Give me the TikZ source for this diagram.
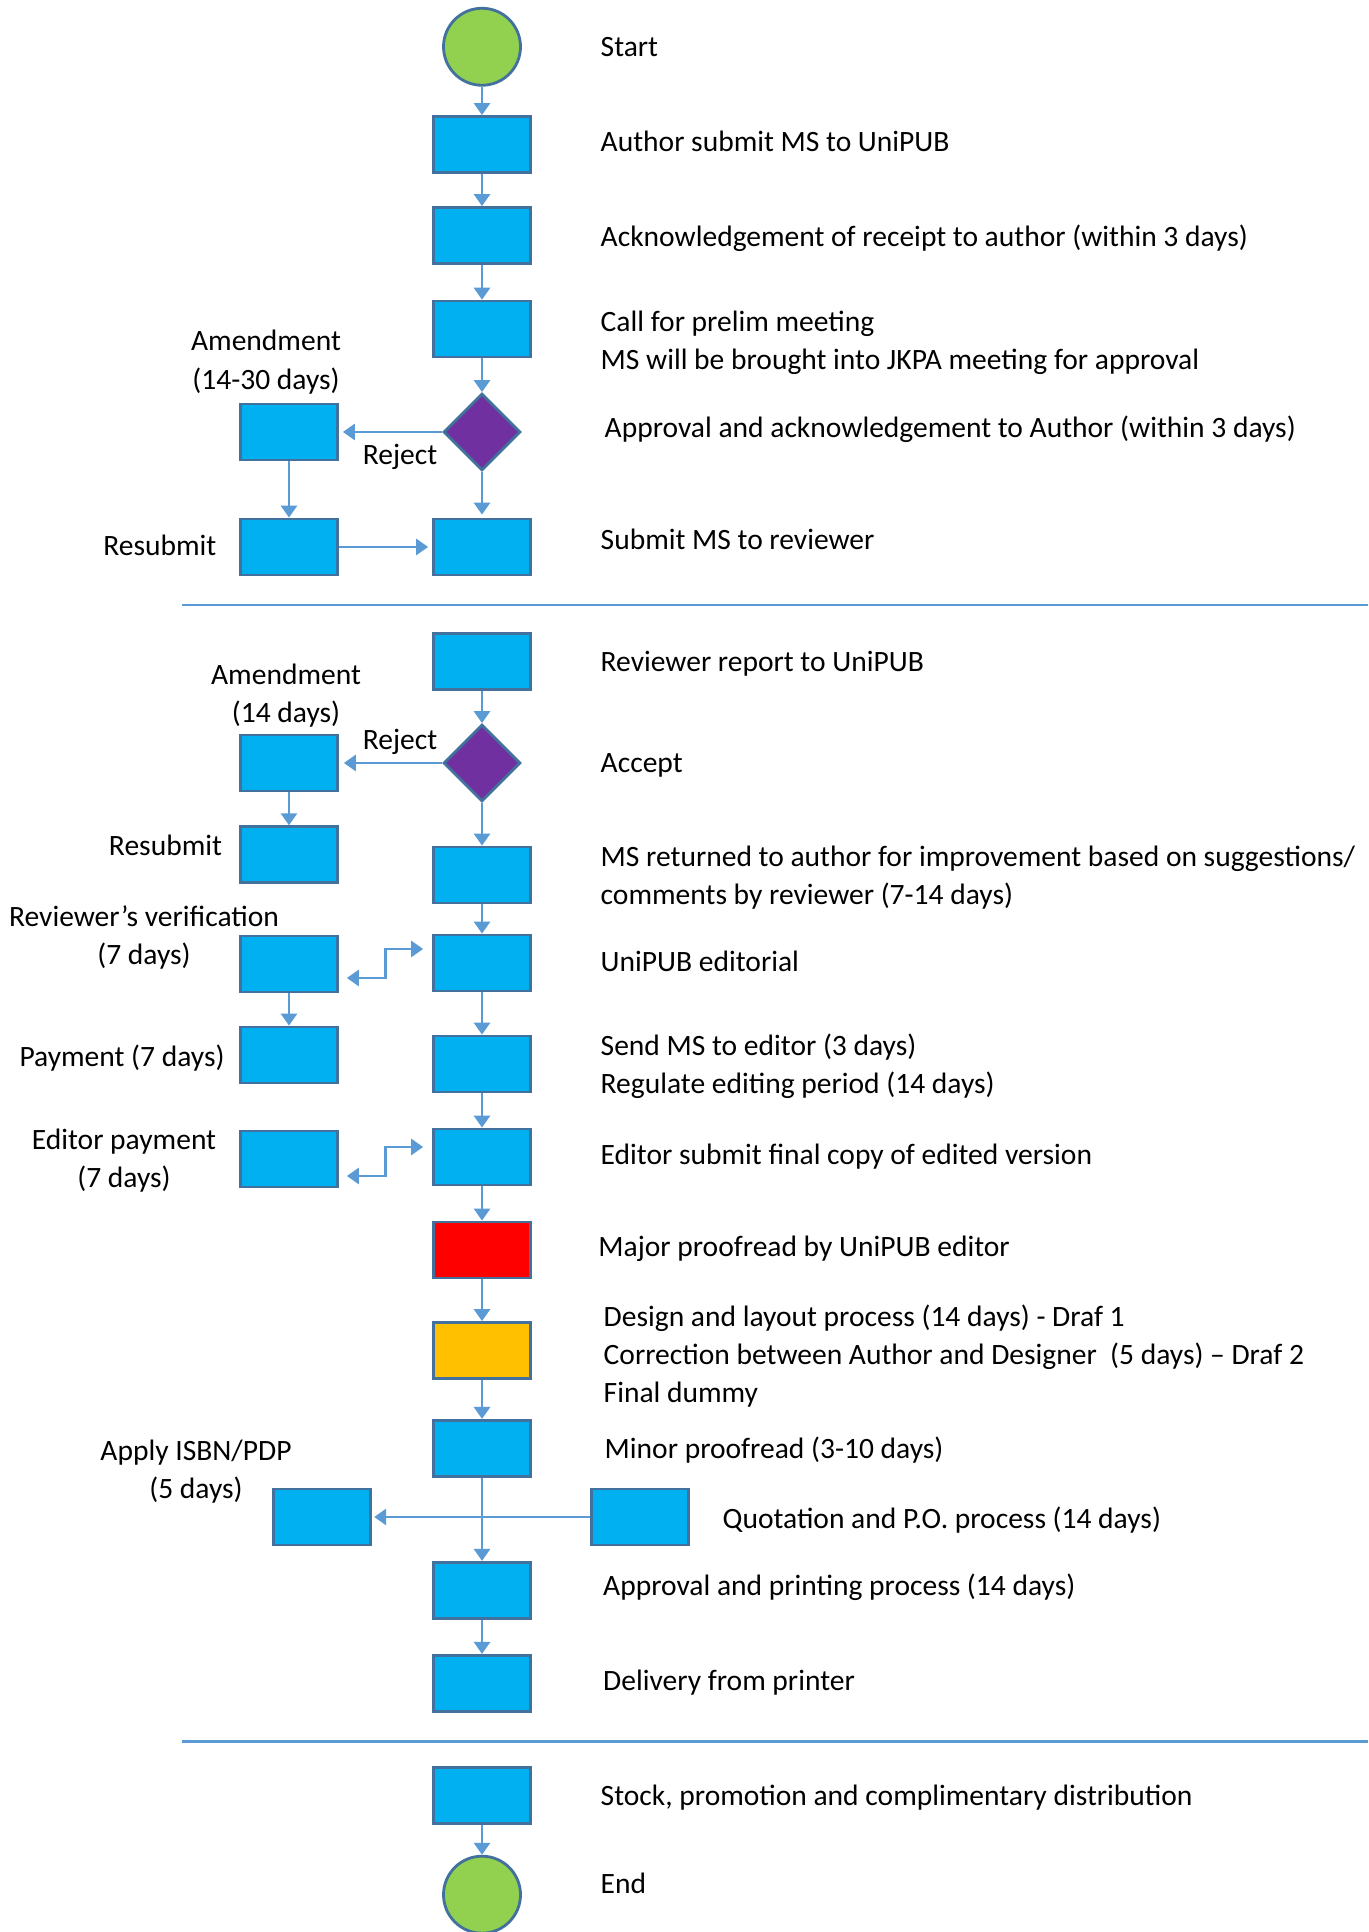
\documentclass[tikz,border=0pt]{standalone}
\usepackage{fontspec}
\setmainfont{Carlito}
\usetikzlibrary{arrows.meta,positioning,shapes.geometric,calc}
\definecolor{BoxFill}{HTML}{00B0F0}
\definecolor{BoxLine}{HTML}{41719C}
\definecolor{FlowLine}{HTML}{5B9BD5}
\definecolor{Decide}{HTML}{7030A0}
\definecolor{Term}{HTML}{92D050}
\definecolor{Major}{HTML}{FF0000}
\definecolor{Layout}{HTML}{FFC000}
\tikzset{>={Triangle[length=3.4pt,width=4.6pt]},every node/.style={font=\fontsize{8.4}{10.9}\selectfont},
 box/.style={draw=BoxLine,fill=BoxFill,line width=.8pt,minimum width=9.7mm,minimum height=5.6mm,inner sep=0},
 term/.style={circle,draw=BoxLine,fill=Term,line width=.8pt,minimum size=7.7mm,inner sep=0},
 decide/.style={diamond,aspect=1,draw=BoxLine,fill=Decide,line width=.8pt,minimum size=7.7mm,inner sep=0},
 flow/.style={draw=FlowLine,line width=.65pt,->},
 txt/.style={anchor=base west,inner sep=0,align=left},
 side/.style={anchor=base,inner sep=0,align=center}}
\begin{document}
\begin{tikzpicture}
\useasboundingbox (0,0) rectangle (13.68,19.32);
% main column
\node[term] (start) at (4.82,18.852) {};
\foreach \nm/\y in {submit/17.875,ack/16.965,prelim/16.029,rev/13.85,report/12.703,
 improve/10.57,edit/9.69,send/8.68,final/7.75,minor/4.837,print/3.417,deliver/2.487,stock/1.365}
 \node[box] (\nm) at (4.82,\y) {};
\node[box,fill=Major] (major) at (4.82,6.82) {};
\node[box,fill=Layout] (layout) at (4.82,5.815) {};
\node[decide] (appr) at (4.82,15.0) {};
\node[decide] (accept) at (4.82,11.69) {};
\node[term] (stop) at (4.82,0.373) {};
% side boxes
\node[box] (amd1) at (2.89,15.0) {};
\node[box] (resub1) at (2.89,13.85) {};
\node[box] (amd2) at (2.89,11.69) {};
\node[box] (resub2) at (2.89,10.773) {};
\node[box] (verif) at (2.89,9.68) {};
\node[box] (pay) at (2.89,8.77) {};
\node[box] (edpay) at (2.89,7.73) {};
\node[box] (isbn) at (3.223,4.15) {};
\node[box] (quot) at (6.40,4.15) {};
% separators
\draw[FlowLine,line width=.65pt] (1.82,13.27)--(13.68,13.27);
\draw[FlowLine,line width=.65pt] (1.82,1.905)--(13.68,1.905);
% flow
\foreach \a/\b in {start/submit,submit/ack,ack/prelim,prelim/appr,report/accept,
 accept/improve,improve/edit,edit/send,send/final,final/major,major/layout,layout/minor,
 minor/print,print/deliver,stock/stop,amd1/resub1,amd2/resub2,verif/pay}
 \draw[flow] (\a)--(\b);
\draw[flow,shorten >=.3mm] (appr)--(rev);
\draw[flow,shorten >=.4mm] (appr)--(amd1);
\draw[flow,shorten >=.4mm] (resub1)--(rev);
\draw[flow,shorten >=.5mm] (accept)--(amd2);
\draw[flow,shorten >=.2mm] (quot)--(isbn);
\draw[flow,<->,shorten <=.8mm,shorten >=.9mm] ([yshift=-1.4mm]verif.east)
 -| ($(verif.east)!.5!(edit.west)$) |- ([yshift=1.4mm]edit.west);
\draw[flow,<->,shorten <=.8mm,shorten >=.9mm] ([yshift=-1.7mm]edpay.east)
 -| ($(edpay.east)!.5!(final.west)$) |- ([yshift=1mm]final.west);
% step texts
\node[txt] (tStart) at (6.00,18.752) {Start};
\node[txt] (tSubmit) at (6.00,17.806) {Author submit MS to UniPUB};
\node[txt] (tAck) at (6.00,16.857) {Acknowledgement of receipt to author (within 3 days)};
\node[txt] (tPrelim) at (6.00,15.621) {Call for prelim meeting\\MS will be brought into JKPA meeting for approval};
\node[txt] (tAppr) at (6.04,14.944) {Approval and acknowledgement to Author (within 3 days)};
\node[txt] (tRev) at (6.00,13.826) {Submit MS to reviewer};
\node[txt] (tReport) at (6.00,12.60) {Reviewer report to UniPUB};
\node[txt] (tAccept) at (6.00,11.59) {Accept};
\node[txt] (tImprove) at (6.00,10.27) {MS returned to author for improvement based on suggestions/\\comments by reviewer (7-14 days)};
\node[txt] (tEdit) at (6.00,9.605) {UniPUB editorial};
\node[txt] (tSend) at (6.00,8.384) {Send MS to editor (3 days)\\Regulate editing period (14 days)};
\node[txt] (tFinal) at (6.00,7.67) {Editor submit final copy of edited version};
\node[txt] (tMajor) at (5.977,6.758) {Major proofread by UniPUB editor};
\node[txt] (tLayout) at (6.03,5.29) {Design and layout process (14 days) - Draf 1\\Correction between Author and Designer\ \ (5 days) – Draf 2\\Final dummy};
\node[txt] (tMinor) at (6.04,4.737) {Minor proofread (3-10 days)};
\node[txt] (tQuot) at (7.22,4.03) {Quotation and P.O. process (14 days)};
\node[txt] (tPrint) at (6.025,3.36) {Approval and printing process (14 days)};
\node[txt] (tDeliver) at (6.025,2.413) {Delivery from printer};
\node[txt] (tStock) at (6.00,1.263) {Stock, promotion and complimentary distribution};
\node[txt] (tStop) at (6.00,0.39) {End};
% side texts
\node[side] (tAmd1) at (2.66,15.429) {Amendment\\(14-30 days)};
\node[side] (tRej1) at (4.00,14.676) {Reject};
\node[side,anchor=base east] (tResub1) at (2.17,13.76) {Resubmit};
\node[side] (tAmd2) at (2.86,12.093) {Amendment\\(14 days)};
\node[side] (tRej2) at (4.00,11.822) {Reject};
\node[side] (tResub2) at (1.655,10.762) {Resubmit};
\node[side] (tVerif) at (1.44,9.671) {Reviewer’s verification\\(7 days)};
\node[side] (tPay) at (1.22,8.657) {Payment (7 days)};
\node[side] (tEdpay) at (1.24,7.44) {Editor payment\\(7 days)};
\node[side] (tIsbn) at (1.96,4.33) {Apply ISBN/PDP\\(5 days)};
\end{tikzpicture}
\end{document}
